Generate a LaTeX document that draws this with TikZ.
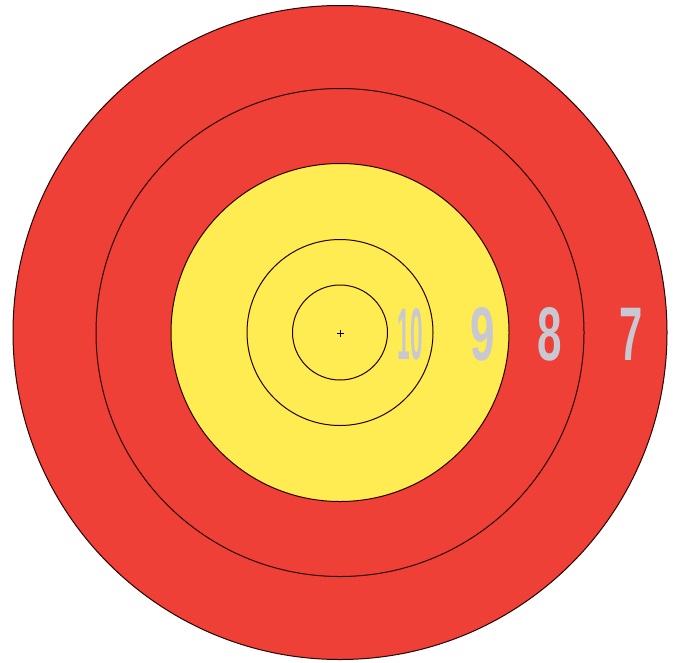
\documentclass[tikz,border=0pt]{standalone}
\usepackage{fontspec}
\setmainfont{Liberation Sans}
\definecolor{tred}{RGB}{238,64,54}
\definecolor{tyel}{RGB}{255,235,82}
\definecolor{tgray}{RGB}{200,200,210}
\begin{document}
\begin{tikzpicture}[x=1pt,y=-1pt,
  ring/.style={draw=black!85!red, line width=1pt},
  num/.style={text=tgray, inner sep=0pt, font=\fontsize{76}{76}\selectfont\bfseries}]
\useasboundingbox (0,0) rectangle (679,662);
\coordinate (c) at (340,332.5);
\fill[tred, ring] (c) circle[radius=327];
\draw[ring] (c) circle[radius=244];
\fill[tyel, ring] (c) circle[radius=169];
\draw[ring] (c) circle[radius=93];
\draw[ring] (c) circle[radius=47.5];
\draw[line width=0.6pt] (337,333) -- (344,333) (340.5,329.5) -- (340.5,336.5);
\node[num, font=\fontsize{73}{73}\selectfont] (n10) at (410.5,334) {\scalebox{0.31}[1]{\textbf{10}}};
\node[num] (n9) at (482.5,334) {\scalebox{0.58}[1]{9}};
\node[num] (n8) at (549.5,334) {\scalebox{0.58}[1]{8}};
\node[num] (n7) at (631,334) {\scalebox{0.55}[1]{7}};
\end{tikzpicture}
\end{document}
